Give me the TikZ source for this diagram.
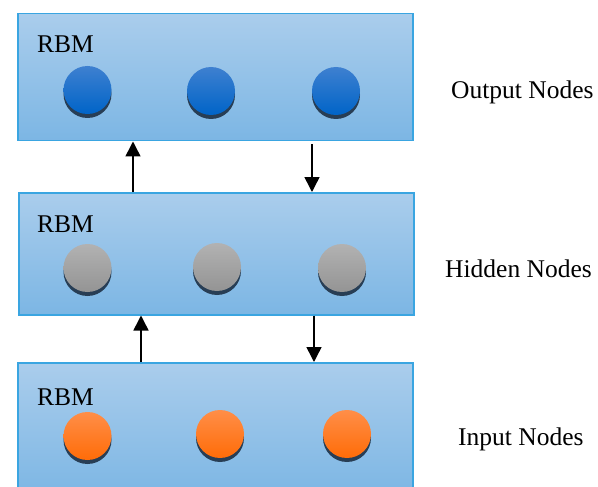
\documentclass[tikz,border=0pt]{standalone}
\usepackage{fontspec}
\setmainfont{Liberation Serif}
\usetikzlibrary{shadows,arrows.meta}
\definecolor{boxtop}{RGB}{170,205,236}
\definecolor{boxbot}{RGB}{124,182,228}
\definecolor{boxline}{RGB}{58,165,225}
\definecolor{bluetop}{RGB}{62,128,208}
\definecolor{bluebot}{RGB}{0,100,200}
\definecolor{graytop}{RGB}{178,178,178}
\definecolor{graybot}{RGB}{148,148,148}
\definecolor{orangetop}{RGB}{255,142,72}
\definecolor{orangebot}{RGB}{255,108,8}
\definecolor{shadowcol}{RGB}{40,62,85}
\begin{document}
\begin{tikzpicture}[x=1pt,y=-1pt,
  layerbox/.style={rectangle, draw=boxline, line width=1.5pt, top color=boxtop, bottom color=boxbot, minimum width=395pt, inner sep=0pt, anchor=north west},
  unit/.style={circle, minimum size=48pt, inner sep=0pt, drop shadow={shadow xshift=0pt, shadow yshift=-4pt, fill=shadowcol, opacity=1}},
  bluenode/.style={unit, top color=bluetop, bottom color=bluebot},
  graynode/.style={unit, top color=graytop, bottom color=graybot},
  orangenode/.style={unit, top color=orangetop, bottom color=orangebot},
  rbm/.style={anchor=base west, inner sep=0pt, font=\fontsize{25.5}{30}\selectfont},
  lbl/.style={anchor=base west, inner sep=0pt, font=\fontsize{25.5}{30}\selectfont},
  arr/.style={line width=1.5pt, -{Triangle[width=15pt,length=15pt]}}
]
\useasboundingbox (0,0) rectangle (598,487);
\clip (0,0) rectangle (598,487);
% layers
\node[layerbox, minimum height=127pt] (top) at (17,13) {};
\node[layerbox, minimum height=122pt] (mid) at (18,192) {};
\node[layerbox, minimum height=135pt] (bot) at (17,362) {};
% RBM labels
\node[rbm] (r1) at (37,53) {RBM};
\node[rbm] (r2) at (37,233) {RBM};
\node[rbm] (r3) at (37,405) {RBM};
% units
\node[bluenode] (o1) at (87.5,90) {};
\node[bluenode] (o2) at (211,91) {};
\node[bluenode] (o3) at (336,91) {};
\node[graynode] (h1) at (87.5,268) {};
\node[graynode] (h2) at (217,267) {};
\node[graynode] (h3) at (342,268) {};
\node[orangenode] (i1) at (87.5,436) {};
\node[orangenode] (i2) at (220,434) {};
\node[orangenode] (i3) at (347,434) {};
% side labels
\node[lbl] (lo) at (451,99) {Output Nodes};
\node[lbl] (lh) at (445,277) {Hidden Nodes};
\node[lbl] (li) at (458,445) {Input Nodes};
% arrows
\coordinate (a1) at (133,0);
\coordinate (a2) at (312,0);
\coordinate (a3) at (141,0);
\coordinate (a4) at (314,0);
\draw[arr] (mid.north -| a1) -- (top.south -| a1);
\draw[arr] ([yshift=-3pt]top.south -| a2) -- (mid.north -| a2);
\draw[arr] (bot.north -| a3) -- (mid.south -| a3);
\draw[arr] (mid.south -| a4) -- (bot.north -| a4);
\end{tikzpicture}
\end{document}
